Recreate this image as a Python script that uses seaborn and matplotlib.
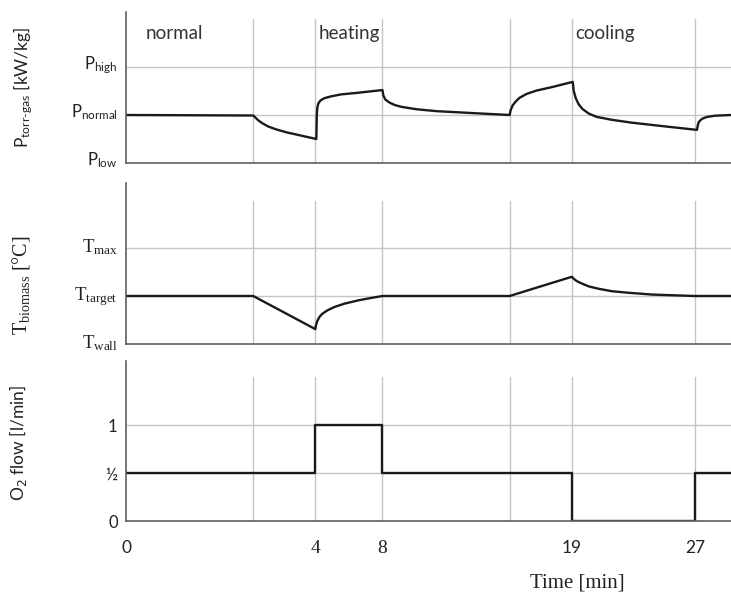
import matplotlib
matplotlib.use("Agg")
import matplotlib.pyplot as plt
import matplotlib.transforms as mtrans
import pandas as pd
import seaborn as sns

# ---------------- data (schematic time axis) ----------------
tick_pos = [0, 189, 256, 445, 568]
tick_labels = ["0", "4", "8", "19", "27"]
grid_x = [127, 189, 256, 383, 445, 568]
x_end = 604

phase_labels = ["normal", "heating", "cooling"]
phase_x = [20, 192, 449]

# P_torr-gas  (0 = P_low, 1 = P_normal, 2 = P_high)
p_x = [0, 123, 127, 129, 132, 136, 142, 150, 160, 175, 190,
       190.5, 191, 192, 194, 198, 205, 215, 230, 256,
       257, 259, 263, 268, 275, 290, 310, 346, 383,
       384, 386, 389, 393, 400, 410, 425, 446,
       447, 449, 452, 456, 462, 470, 485, 505, 535, 570,
       571, 572, 575, 580, 588, 604]
p_y = [1.0, 0.99, 0.99, 0.95, 0.89, 0.83, 0.76, 0.70, 0.64, 0.57, 0.50,
       1.00, 1.15, 1.24, 1.30, 1.35, 1.39, 1.43, 1.46, 1.52,
       1.40, 1.32, 1.26, 1.21, 1.17, 1.12, 1.08, 1.04, 1.0,
       1.10, 1.20, 1.28, 1.36, 1.44, 1.51, 1.58, 1.69,
       1.50, 1.35, 1.22, 1.12, 1.03, 0.96, 0.90, 0.84, 0.77, 0.69,
       0.80, 0.86, 0.92, 0.96, 0.985, 1.0]

# T_biomass  (0 = T_wall, 1 = T_target, 2 = T_max)
t_x = [0, 127, 189, 189.5, 191, 193, 196, 201, 208, 218, 232, 245, 256,
       383, 445, 447, 450, 455, 462, 472, 485, 500, 525, 568, 604]
t_y = [1.0, 1.0, 0.31, 0.38, 0.48, 0.56, 0.63, 0.70, 0.77, 0.84, 0.91, 0.96, 1.0,
       1.0, 1.40, 1.36, 1.31, 1.26, 1.20, 1.15, 1.10, 1.07, 1.03, 1.0, 1.0]

# O2 flow [l/min] (step)
o2_x = [0, 189, 256, 445, 568, 604]
o2_y = [0.5, 1.0, 0.5, 0.0, 0.5, 0.5]

p_ticks = [0, 1, 2]
p_ticklabels = [r"$\mathregular{P_{low}}$", r"$\mathregular{P_{normal}}$", r"$\mathregular{P_{high}}$"]
t_ticks = [0, 1, 2]
t_ticklabels = [r"$\mathregular{T_{wall}}$", r"$\mathregular{T_{target}}$", r"$\mathregular{T_{max}}$"]
o_ticks = [0, 0.5, 1]
o_ticklabels = ["0", "½", "1"]

# ---------------- style ----------------
sns.set_theme(style="white")
SANS = ["Lato", "DejaVu Sans"]
SERIF = ["Liberation Serif", "DejaVu Serif"]
plt.rcParams["font.family"] = SANS

LINE = "#1a1a1a"
GRID = "#c4c4c4"
SPINE = "#5f5f5f"
TXT = "#222222"

fig = plt.figure(figsize=(7.31, 5.94), dpi=100)
W, H = 731, 594
left = 126 / W
width = 1 - left

def make_ax(top_px, bot_px):
    return fig.add_axes([left, 1 - bot_px / H, width, (bot_px - top_px) / H])

ax1 = make_ax(12, 163)
ax2 = make_ax(183, 344)
ax3 = make_ax(361, 521)

df_p = pd.DataFrame({"x": p_x, "y": p_y})
df_t = pd.DataFrame({"x": t_x, "y": t_y})
df_o = pd.DataFrame({"x": o2_x, "y": o2_y})

setup = [
    (ax1, df_p, (0, 3.146), p_ticks, p_ticklabels, SANS, 12, 0.954, None, 5),
    (ax2, df_t, (0, 3.354), t_ticks, t_ticklabels, SERIF, 13.5, 0.888, None, 3),
    (ax3, df_o, (0, 1.667), o_ticks, o_ticklabels, SANS, 12, 0.90, "steps-post", 0),
]

for ax, df, ylim, yt, ytl, fam, fs, gtop, ds, shift in setup:
    for yv in yt[1:]:
        ax.axhline(yv, color=GRID, lw=1.0, zorder=0)
    for xv in grid_x:
        ax.axvline(xv, ymin=0, ymax=gtop, color=GRID, lw=1.0, zorder=0)
    kw = dict(drawstyle=ds) if ds else {}
    sns.lineplot(data=df, x="x", y="y", ax=ax, color=LINE, lw=1.7,
                 estimator=None, sort=False, **kw)
    ax.set_xlim(0, x_end)
    ax.set_ylim(*ylim)
    ax.set_yticks(yt)
    ax.set_yticklabels(ytl, family=fam, fontsize=fs, color=TXT)
    ax.tick_params(axis="y", length=0, pad=6)
    if shift:
        off = mtrans.ScaledTranslation(0, shift / 100, fig.dpi_scale_trans)
        for lab in ax.get_yticklabels():
            lab.set_transform(lab.get_transform() + off)
    ax.set_xlabel("")
    ax.set_ylabel("")
    for s in ["top", "right"]:
        ax.spines[s].set_visible(False)
    for s in ["left", "bottom"]:
        ax.spines[s].set_color(SPINE)
        ax.spines[s].set_linewidth(1.2)

for ax in (ax1, ax2):
    ax.set_xticks([])

ax3.set_xticks(tick_pos)
ax3.set_xticklabels(tick_labels, fontsize=12.5, color=TXT)
for lab in ax3.get_xticklabels():
    if lab.get_text() in ("4", "8"):
        lab.set_family(SERIF)
        lab.set_fontsize(14)
ax3.tick_params(axis="x", length=0, pad=14)

# phase annotations
for lab, xv in zip(phase_labels, phase_x):
    ax1.text(xv, 2.70, lab, ha="left", va="center", fontsize=13.5, color="#333333")

# y labels
ax1.set_ylabel(r"$\mathregular{P_{torr‐gas}}$ [kW/kg]", fontsize=12.5, color=TXT, family=SANS)
ax2.set_ylabel(r"$\mathregular{T_{biomass}}$ [°C]", fontsize=14.5, color=TXT, family=SERIF)
ax3.set_ylabel(r"O$_2$ flow [l/min]", fontsize=12.5, color=TXT, family=SANS)
ax1.yaxis.set_label_coords(-0.150, 0.50)
ax2.yaxis.set_label_coords(-0.155, 0.366)
ax3.yaxis.set_label_coords(-0.160, 0.49)

fig.text(577 / W, 1 - 583 / H, "Time [min]", ha="center", va="center",
         fontsize=15, family=SERIF, color=TXT)

fig.savefig("out.png", dpi=100)
